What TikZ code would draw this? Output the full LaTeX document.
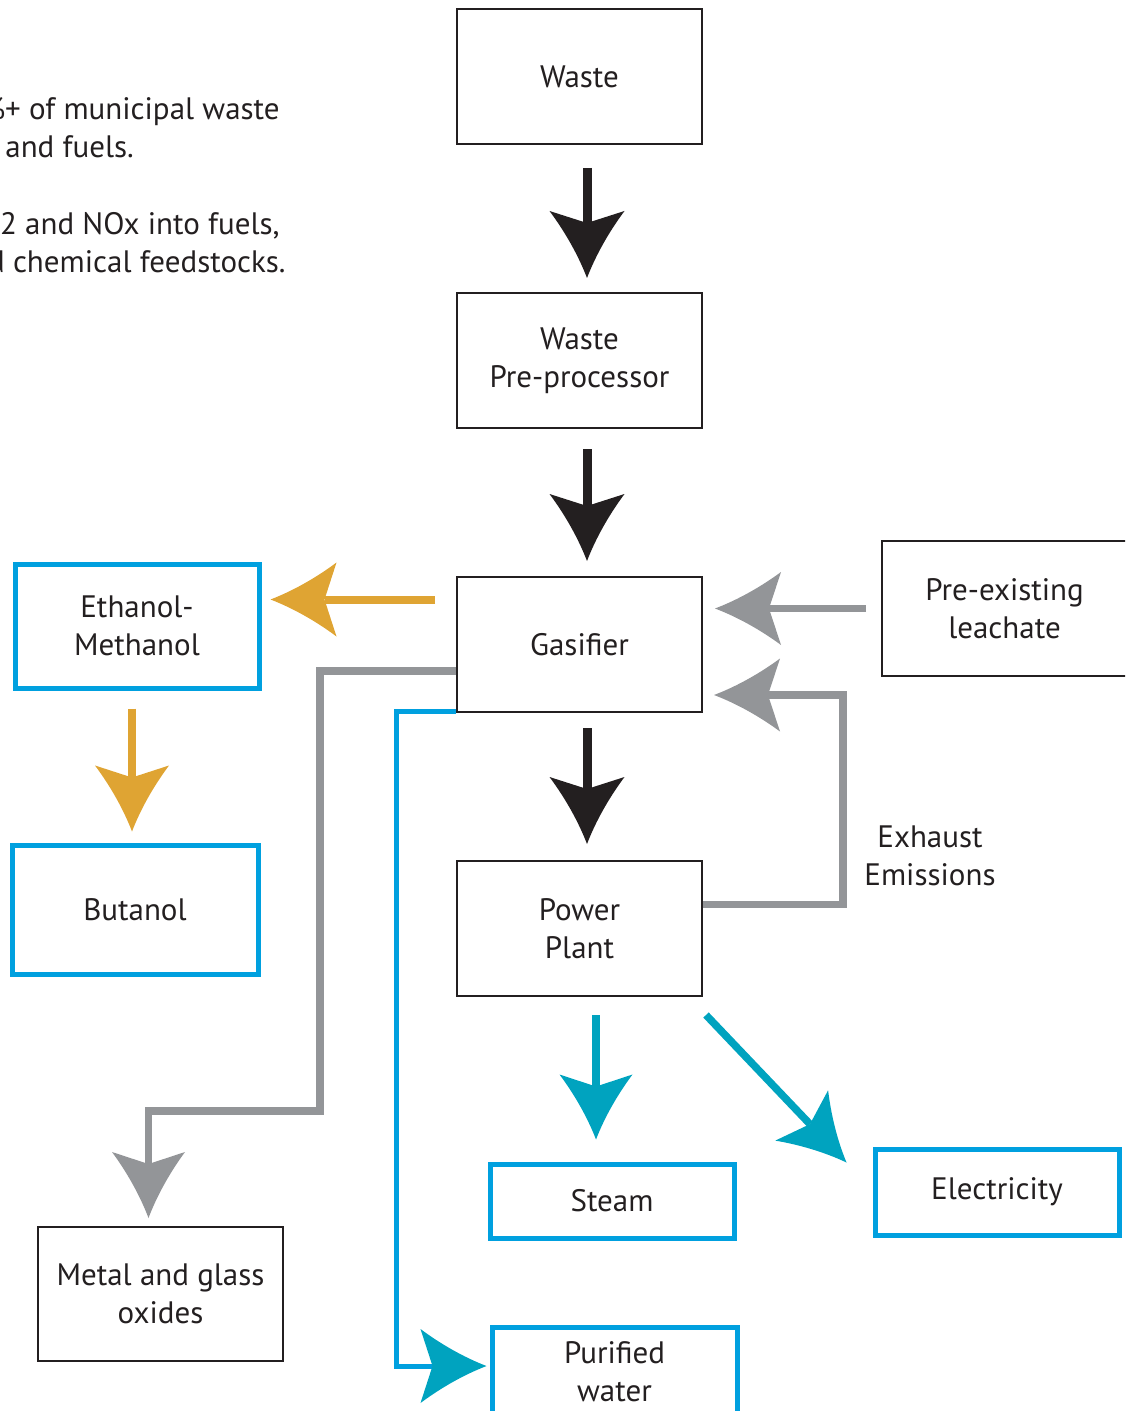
\documentclass[tikz,border=0pt]{standalone}
\usepackage{fontspec}
\setmainfont{PT Sans}
\usepackage{tikz}
\usetikzlibrary{
  calc,
  positioning,
  arrows.meta
}
\definecolor{inkblack}{HTML}{231F20}
\definecolor{arrowgray}{HTML}{939598}
\definecolor{gold}{HTML}{DFA433}
\definecolor{tealhead}{HTML}{00A3BF}
\definecolor{boxblue}{HTML}{00A0DF}

% arrow head with hollow curved flanks
\pgfdeclarearrow{
  name = Swoop,
  defaults = {length = 33.5pt, width = 37.5pt, inset = 6pt},
  setup code = {
    \pgfarrowssettipend{\pgfarrowlength}
    \pgfarrowssetlineend{\pgfarrowinset}
    \pgfarrowssetvisualbackend{\pgfarrowinset}
    \pgfarrowssetbackend{0pt}
    \pgfarrowshullpoint{\pgfarrowlength}{0pt}
    \pgfarrowsupperhullpoint{0pt}{.5\pgfarrowwidth}
    \pgfarrowssavethe\pgfarrowlength
    \pgfarrowssavethe\pgfarrowwidth
    \pgfarrowssavethe\pgfarrowinset
  },
  drawing code = {
    \pgfpathmoveto{\pgfqpoint{\pgfarrowlength}{0pt}}
    \pgfpathcurveto{\pgfqpoint{.65\pgfarrowlength}{.12\pgfarrowwidth}}{\pgfqpoint{.3\pgfarrowlength}{.3\pgfarrowwidth}}{\pgfqpoint{0pt}{.5\pgfarrowwidth}}
    \pgfpathlineto{\pgfqpoint{\pgfarrowinset}{0pt}}
    \pgfpathlineto{\pgfqpoint{0pt}{-.5\pgfarrowwidth}}
    \pgfpathcurveto{\pgfqpoint{.3\pgfarrowlength}{-.3\pgfarrowwidth}}{\pgfqpoint{.65\pgfarrowlength}{-.12\pgfarrowwidth}}{\pgfqpoint{\pgfarrowlength}{0pt}}
    \pgfpathclose
    \pgfusepathqfill
  },
  parameters = {\the\pgfarrowlength,\the\pgfarrowwidth,\the\pgfarrowinset},
}

\tikzset{
  box/.style={draw=inkblack, line width=1pt, minimum width=122.5pt,
    minimum height=67.5pt, align=center, inner sep=0pt, text=inkblack},
  bluebox/.style={box, draw=boxblue, line width=2.5pt, minimum width=122pt},
  blackarrow/.style={draw=inkblack, line width=4.5pt, -{Swoop}},
  grayarrow/.style={draw=arrowgray, line width=3.75pt, -{Swoop[length=33pt, width=36.5pt]}},
  orangearrow/.style={draw=gold, line width=4pt, -{Swoop[length=33pt, width=37pt]}},
  tealarrow/.style={draw=tealhead, line width=3.75pt, -{Swoop[length=32.5pt, width=36.5pt]}},
  note/.style={inner sep=0pt, text=inkblack}
}

\begin{document}
\begin{tikzpicture}[x=0.5pt, y=-0.5pt, font=\fontsize{15.5}{19}\selectfont]
  \useasboundingbox (0,0) rectangle (1125,1411);
  \clip (0,0) rectangle (1125,1411);

  % text cut at the left margin
  \node[note, anchor=base east] (note1) at (280,120) {\%+ of municipal waste};
  \node[note, anchor=base west] (note2) at (5,158) {and fuels.};
  \node[note, anchor=base east] (note3) at (280,235) {CO2 and NOx into fuels,};
  \node[note, anchor=base east] (note4) at (286,273) {and chemical feedstocks.};

  % main column
  \node[box] (waste) at (579.5,76.5) {Waste};
  \node[box, below=73.5pt of waste] (prep) {Waste\\Pre-processor};
  \node[box, below=73.5pt of prep] (gasifier) {Gasifier};
  \node[box, below=73.5pt of gasifier] (power) {Power\\Plant};

  % side boxes
  \node[box] (leachate) at (1004.5,608.5) {Pre-existing\\leachate};
  \node[bluebox, minimum height=62pt] (ethanol) at (137,626) {Ethanol-\\Methanol};
  \node[bluebox, minimum width=123pt, minimum height=64.5pt] (butanol) at (135,909.5) {Butanol};
  \node[box, minimum height=67pt] (metal) at (160.5,1294) {Metal and glass\\oxides};
  \node[bluebox, minimum height=37pt] (steam) at (612,1201) {Steam};
  \node[bluebox, minimum height=43pt] (elec) at (997,1192) {Electricity};
  \node[bluebox, minimum width=122.5pt, minimum height=45pt] (water) at (614.5,1372) {Purified\\water};
  \node[note, align=center] (exhaust) at (930,855.5) {Exhaust\\Emissions};

  % black flow down the column
  \draw[blackarrow, shorten <=11.5pt, shorten >=7pt] ([xshift=3.75pt]waste.south) -- ([xshift=3.75pt]prep.north);
  \draw[blackarrow, shorten <=10pt, shorten >=7.5pt] ([xshift=3.75pt]prep.south) -- ([xshift=3.75pt]gasifier.north);
  \draw[blackarrow, shorten <=7.5pt, shorten >=8pt] ([xshift=3.75pt]gasifier.south) -- ([xshift=3.75pt]power.north);

  % inputs back into the gasifier
  \draw[grayarrow, shorten <=7.5pt, shorten >=6pt] (leachate.west) -- (leachate.west -| gasifier.east);
  \coordinate (exhaustbend) at (843,695);
  \draw[grayarrow, shorten >=5.5pt] ([yshift=12pt]power.east) -| (exhaustbend) -- (exhaustbend -| gasifier.east);

  % gasifier products
  \draw[orangearrow, shorten <=10.5pt, shorten >=4.5pt] ([yshift=22.5pt]gasifier.west) -- ([yshift=22.5pt]gasifier.west -| ethanol.east);
  \draw[orangearrow, shorten <=9pt, shorten >=5.5pt] ([xshift=-2.5pt]ethanol.south) -- ([xshift=-2.5pt]ethanol.south |- butanol.north);
  \coordinate (metalbend) at (320,1111);
  \draw[draw=arrowgray, line width=3.75pt, shorten >=4pt, -{Swoop[length=33pt, width=36.5pt]}]
    ([yshift=-13.25pt]gasifier.west) -| (metalbend) -| ([xshift=-6pt]metal.north);
  \coordinate (waterbend) at (396,1366);
  \draw[draw=boxblue, line width=2.5pt, shorten >=1.5pt, -{Swoop[length=33pt, width=37pt, color=tealhead]}]
    ([yshift=-33.25pt]gasifier.west) -| (waterbend) -- (waterbend -| water.west);

  % power plant outputs
  \draw[tealarrow, shorten <=9pt, shorten >=11pt] ([xshift=8.25pt]power.south) -- ([xshift=8.25pt]power.south |- steam.north);
  \draw[tealarrow] ([shift={(1.5pt,-9pt)}]power.south east) -- ([shift={(-13pt,-8pt)}]elec.north west);
\end{tikzpicture}
\end{document}
